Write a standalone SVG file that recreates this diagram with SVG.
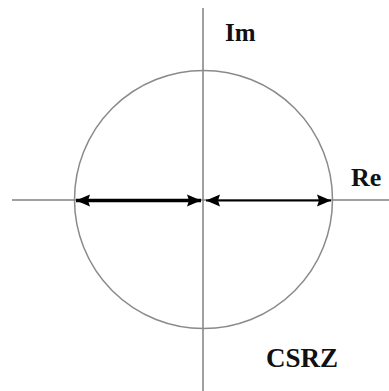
<svg xmlns="http://www.w3.org/2000/svg" width="389" height="391" viewBox="0 0 389 391">
<style>
.axis{stroke:#808080;stroke-width:1.5;fill:none}
.circ{stroke:#8a8a8a;stroke-width:1.5;fill:none}
.arr{stroke:#000;fill:none}
.lbl{font-family:"Liberation Serif",serif;font-weight:bold;fill:#111}
</style>
<defs>
<marker id="ah" markerUnits="userSpaceOnUse" markerWidth="16" markerHeight="14" refX="14" refY="7" orient="auto-start-reverse">
<path d="M0,1 L14,7 L0,13 L2,7 Z" fill="#000"/>
</marker>
</defs>
<rect width="389" height="391" fill="#fff"/>
<g id="axes">
<line class="axis" x1="12" y1="200" x2="389" y2="200"/>
<line class="axis" x1="203" y1="8" x2="203" y2="391"/>
</g>
<g id="circle">
<circle class="circ" cx="203.5" cy="199.5" r="129"/>
</g>
<g id="connectors">
<line class="arr" stroke-width="3.5" x1="76" y1="200.5" x2="201" y2="200.5" marker-start="url(#ah)" marker-end="url(#ah)"/>
<line class="arr" stroke-width="2.2" x1="206" y1="200.5" x2="331" y2="200.5" marker-start="url(#ah)" marker-end="url(#ah)"/>
</g>
<g id="label-im"><text class="lbl" x="225" y="41" font-size="25">Im</text></g>
<g id="label-re"><text class="lbl" x="351" y="186" font-size="26">Re</text></g>
<g id="label-csrz"><text class="lbl" x="266" y="367" font-size="27">CSRZ</text></g>
</svg>
